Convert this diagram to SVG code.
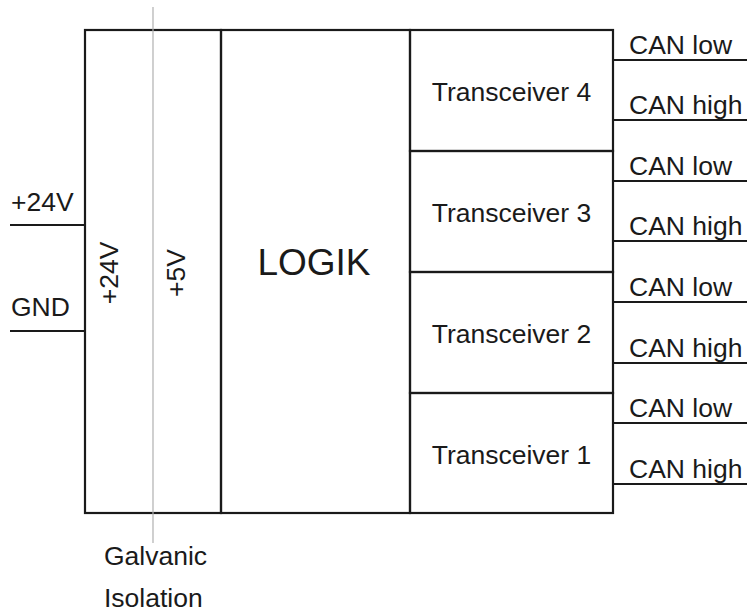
<svg xmlns="http://www.w3.org/2000/svg" width="747" height="614" viewBox="0 0 747 614">
<style>
.box{fill:none;stroke:#1a1a1a;stroke-width:2.2}
.wire{stroke:#1a1a1a;stroke-width:2.2;fill:none}
.iso{stroke:#b0b0b0;stroke-width:1.2;fill:none}
text{font-family:"Liberation Sans",Arial,sans-serif;fill:#1a1a1a;font-size:26.5px}
.mid{text-anchor:middle}
.big{font-size:37px}
</style>
<rect width="747" height="614" fill="#fff"/>
<g id="power">
<rect class="box" x="85" y="30" width="136" height="483"/>
<text transform="translate(118,273) rotate(-90)" class="mid">+24V</text>
<text transform="translate(184.5,273) rotate(-90)" class="mid">+5V</text>
</g>
<g id="logik">
<rect class="box" x="221" y="30" width="189" height="483"/>
<text x="314" y="275" class="mid big">LOGIK</text>
</g>
<g id="transceiver4">
<rect class="box" x="410" y="30" width="203" height="121"/>
<text x="511.5" y="100.5" class="mid">Transceiver 4</text>
</g>
<g id="transceiver3">
<rect class="box" x="410" y="151" width="203" height="121"/>
<text x="511.5" y="221.5" class="mid">Transceiver 3</text>
</g>
<g id="transceiver2">
<rect class="box" x="410" y="272" width="203" height="121"/>
<text x="511.5" y="342.5" class="mid">Transceiver 2</text>
</g>
<g id="transceiver1">
<rect class="box" x="410" y="393" width="203" height="120"/>
<text x="511.5" y="463.5" class="mid">Transceiver 1</text>
</g>
<g id="isolation">
<line class="iso" x1="153" y1="7" x2="153" y2="543"/>
<text x="104" y="565">Galvanic</text>
<text x="104" y="607">Isolation</text>
</g>
<g id="connectors">
<line class="wire" x1="10" y1="225" x2="85" y2="225"/>
<line class="wire" x1="10" y1="331" x2="85" y2="331"/>
<line class="wire" x1="613" y1="60" x2="747" y2="60"/>
<line class="wire" x1="613" y1="120" x2="747" y2="120"/>
<line class="wire" x1="613" y1="181" x2="747" y2="181"/>
<line class="wire" x1="613" y1="241" x2="747" y2="241"/>
<line class="wire" x1="613" y1="302" x2="747" y2="302"/>
<line class="wire" x1="613" y1="363" x2="747" y2="363"/>
<line class="wire" x1="613" y1="423" x2="747" y2="423"/>
<line class="wire" x1="613" y1="484" x2="747" y2="484"/>
</g>
<g id="labels">
<text x="11" y="211">+24V</text>
<text x="11" y="316">GND</text>
<text x="629" y="54">CAN low</text>
<text x="629" y="114">CAN high</text>
<text x="629" y="175">CAN low</text>
<text x="629" y="235">CAN high</text>
<text x="629" y="296">CAN low</text>
<text x="629" y="357">CAN high</text>
<text x="629" y="417">CAN low</text>
<text x="629" y="478">CAN high</text>
</g>
</svg>
